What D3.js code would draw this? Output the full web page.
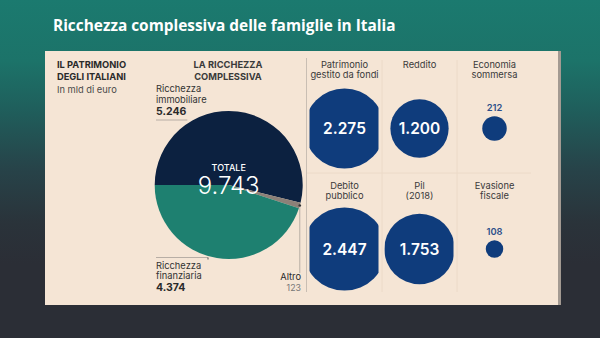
<!DOCTYPE html>
<html><head><meta charset="utf-8">
<script src="https://cdn.jsdelivr.net/npm/d3@7"></script>
<style>html,body{margin:0;padding:0;background:#2b2e36;}svg{display:block;}</style>
</head><body>
<svg id="c" width="600" height="338"></svg>
<script>
const title = "Ricchezza complessiva delle famiglie in Italia";
const pieLabels = ["Ricchezza immobiliare", "Altro", "Ricchezza finanziaria"];
const pieValues = [5246, 123, 4374];
const totalValue = 9743;
const bubbleLabels = [["Patrimonio","gestito da fondi"],["Reddito"],["Economia","sommersa"],["Debito","pubblico"],["Pil","(2018)"],["Evasione","fiscale"]];
const bubbleValues = [2275, 1200, 212, 2447, 1753, 108];

const fmt = d3.formatLocale({decimal:",", thousands:".", grouping:[3], currency:["","€"]}).format(",d");
const svg = d3.select("#c");
const FONT = "Inter, Roboto, sans-serif";

const defs = svg.append("defs");
const g = defs.append("linearGradient").attr("id","bg").attr("x1",0).attr("y1",0).attr("x2",0).attr("y2",1);
[[0,"#1b7a6f"],[0.18,"#1c7369"],[0.32,"#1f5f5c"],[0.5,"#274349"],[0.66,"#2a333a"],[0.78,"#2b2e36"],[1,"#2b2e36"]]
  .forEach(([o,c])=>g.append("stop").attr("offset",o).attr("stop-color",c));
svg.append("rect").attr("width",600).attr("height",338).attr("fill","url(#bg)");

svg.append("text").attr("x",53).attr("y",31).text(title)
  .attr("fill","#fff").attr("font-family","'Open Sans', sans-serif").attr("font-weight",700).attr("font-size",15.4);

svg.append("rect").attr("x",47).attr("y",51).attr("width",514).attr("height",254).attr("fill","#a39a92");
svg.append("rect").attr("x",45).attr("y",51).attr("width",513).attr("height",254).attr("fill","#f5e5d5");

const txt = (x,y,s,opt={}) => svg.append("text").attr("x",x).attr("y",y).text(s)
  .attr("font-family",FONT).attr("font-size",opt.size||9.3).attr("font-weight",opt.weight||400)
  .attr("fill",opt.fill||"#333").attr("text-anchor",opt.anchor||"start");

txt(57,68,"IL PATRIMONIO",{weight:700,fill:"#2a2a2a"});
txt(57,80,"DEGLI ITALIANI",{weight:700,fill:"#2a2a2a"});
txt(57,92.5,"In mld di euro",{fill:"#4a4a4a"});
txt(228,68,"LA RICCHEZZA",{weight:700,fill:"#3a3a3a",anchor:"middle"});
txt(228,80,"COMPLESSIVA",{weight:700,fill:"#3a3a3a",anchor:"middle"});

const cx = 228.7, cy = 185, R = 74;
const pie = d3.pie().sort(null).startAngle(-Math.PI/2).endAngle(1.5*Math.PI);
const arcs = pie(pieValues);
const arc = d3.arc().innerRadius(0).outerRadius(R);
const pieColors = ["#0c2140","#8c8078","#1e8070"];
const pg = svg.append("g").attr("transform",`translate(${cx},${cy})`);
pg.selectAll("path").data(arcs).join("path").attr("d",arc).attr("fill",(d,i)=>pieColors[i]);

const lineCol = "#b8aea5";
const yImm = 120;
const xImm = cx - Math.sqrt(R*R-(cy-yImm)*(cy-yImm));
svg.append("line").attr("x1",156).attr("x2",xImm-6).attr("y1",yImm).attr("y2",yImm).attr("stroke",lineCol).attr("stroke-width",1);
txt(156,92,"Ricchezza");
txt(156,102.5,"immobiliare");
txt(156,115,fmt(pieValues[0]),{size:10.5,weight:700,fill:"#2a2a2a"});
svg.append("line").attr("x1",156).attr("x2",208).attr("y1",257.5).attr("y2",257.5).attr("stroke",lineCol).attr("stroke-width",1);
svg.append("line").attr("x1",208).attr("x2",208).attr("y1",257.5).attr("y2",259.5).attr("stroke","#555").attr("stroke-width",1);
txt(156,268.5,"Ricchezza");
txt(156,279,"finanziaria");
txt(156,291,fmt(pieValues[2]),{size:10.5,weight:700,fill:"#2a2a2a"});
const aMid = (arcs[1].startAngle+arcs[1].endAngle)/2;
const ax = cx + R*Math.sin(aMid), ay = cy - R*Math.cos(aMid);
svg.append("line").attr("x1",ax).attr("x2",ax).attr("y1",ay).attr("y2",273).attr("stroke",lineCol).attr("stroke-width",1);
svg.append("circle").attr("cx",ax).attr("cy",ay).attr("r",1.3).attr("fill","#333");
txt(301,280,pieLabels[1],{anchor:"end",fill:"#2a2a2a"});
txt(301,290.5,fmt(pieValues[1]),{anchor:"end",fill:"#777",size:8.8});

txt(cx,170.5,"TOTALE",{anchor:"middle",fill:"#fff",weight:500,size:9});
txt(cx,194,fmt(totalValue),{anchor:"middle",fill:"#fff",weight:300,size:24});

svg.append("line").attr("x1",306.5).attr("x2",306.5).attr("y1",58).attr("y2",292).attr("stroke","#c9beb3").attr("stroke-width",1);

const col = d3.scaleBand().domain([0,1,2]).range([307,532]);
const row = d3.scaleBand().domain([0,1]).range([55,296]);
const rs = d3.scaleSqrt().domain([0,2447]).range([0,41.6]);
const faint = "#ecdac8";
[1,2].forEach(i=>svg.append("line").attr("x1",col(i)).attr("x2",col(i)).attr("y1",60).attr("y2",292).attr("stroke",faint));
svg.append("line").attr("x1",307).attr("x2",531).attr("y1",row(1)-2.5).attr("y2",row(1)-2.5).attr("stroke",faint);

bubbleValues.forEach((v,i)=>{
  const c = i%3, r = Math.floor(i/3);
  const x0 = col(c), y0 = row(r);
  const bx = x0 + col.bandwidth()/2, by = y0 + 73.5;
  const id = "clip"+i;
  defs.append("clipPath").attr("id",id).append("rect")
    .attr("x",x0+2.5).attr("y",y0).attr("width",col.bandwidth()-6).attr("height",row.bandwidth());
  bubbleLabels[i].forEach((l,k)=>txt(bx,y0+13+k*10,l,{anchor:"middle",fill:"#3a3a3a"}));
  const rad = rs(v);
  svg.append("circle").attr("cx",bx).attr("cy",by).attr("r",rad).attr("fill","#0f3c7c").attr("clip-path",`url(#${id})`);
  if (rad > 20) {
    txt(bx,by+5.5,fmt(v),{anchor:"middle",fill:"#fff",weight:600,size:15.5});
  } else {
    txt(bx,by-rad-5,fmt(v),{anchor:"middle",fill:"#2d4f8a",weight:600,size:9.3});
  }
});
</script>
</body></html>
